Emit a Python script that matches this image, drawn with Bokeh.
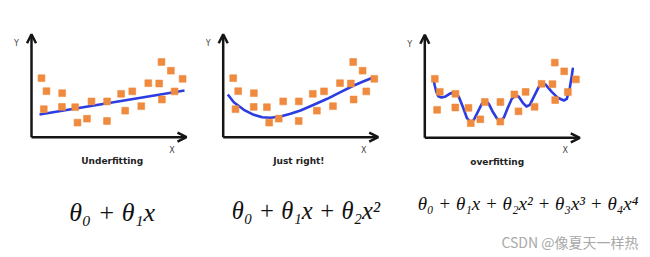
from bokeh.plotting import figure
from bokeh.layouts import row
from bokeh.models import Range1d, Arrow, OpenHead, Label
from bokeh.embed import file_html
from bokeh.resources import INLINE

# ---- data (local units, origin = axes corner, y up) ----
POINT_X = [10, 15, 12.3, 30.7, 30.5, 43.7, 46, 55.5, 60, 75.6, 75.5, 89.6, 93.7,
           100.8, 109.8, 116.8, 127.7, 130, 130.4, 139.4, 143.1, 151.1]
POINT_Y = [59, 46, 28, 44, 30.3, 30, 14.6, 18.5, 35.8, 35.8, 16.2, 43.4, 26.5,
           45.9, 31, 54, 53.7, 75.2, 37.7, 66.5, 45.8, 58.4]

UNDER_X = [8, 153]
UNDER_Y = [22.7, 46.7]

RIGHT_X = [4.6, 10.6, 20.6, 30.6, 39, 47.3, 57.3, 67.3, 77.3, 90.6, 104, 117.3, 130.6, 140.6, 150.6]
RIGHT_Y = [42.7, 35, 27.4, 22.4, 20, 19.4, 20.7, 23.4, 26.7, 32.4, 38.4, 45, 51.7, 56, 60]

OVER_X = [9, 10, 11.5, 13.5, 16.7, 20, 24, 28, 30.7, 34, 38, 42, 45.7, 49, 53, 57, 60.7,
          64, 68, 72, 75.7, 79, 83, 87, 90.7, 94, 98, 101.7, 105, 110, 114, 117.4,
          121, 127, 133, 139, 142, 145, 147, 148]
OVER_Y = [57, 52, 46, 41.5, 40.3, 41, 43.5, 45.3, 45.3, 41, 31, 20, 15.6, 18, 26, 34, 37.3,
          34, 26, 19.5, 17.3, 20, 30, 39, 42.3, 41, 35, 31.3, 33, 43, 51, 54.6,
          53, 46, 40, 37.3, 39, 50, 62, 69]

TITLES = ["Underfitting", "Just right!", "overfitting"]
FORMULAS = ["θ₀ + θ₁x", "θ₀ + θ₁x + θ₂x²", "θ₀ + θ₁x + θ₂x² + θ₃x³ + θ₄x⁴"]
WATERMARK = "CSDN @像夏天一样热"

ORANGE = "#ef8a3e"
BLUE = "#2b3ce0"
AXIS = "#151515"


def panel(width, ox, oy):
    p = figure(width=width, height=257,
               x_range=Range1d(-ox, width - ox), y_range=Range1d(oy - 257, oy),
               min_border=0, toolbar_location=None, output_backend="svg",
               outline_line_color=None, background_fill_color="white",
               border_fill_color="white")
    p.xaxis.visible = False
    p.yaxis.visible = False
    p.grid.visible = False
    # axes arrows
    p.add_layout(Arrow(end=OpenHead(size=9, line_width=2.5, line_color=AXIS),
                       x_start=0, y_start=0, x_end=0, y_end=103,
                       line_width=2.5, line_color=AXIS))
    p.add_layout(Arrow(end=OpenHead(size=9, line_width=2.5, line_color=AXIS),
                       x_start=0, y_start=0, x_end=155, y_end=0,
                       line_width=2.5, line_color=AXIS))
    p.add_layout(Label(x=-15, y=93.5, text="Y", text_font="DejaVu Sans",
                       text_font_size="8px", text_color="#444",
                       text_align="center", text_baseline="middle"))
    p.add_layout(Label(x=140.5, y=-13, text="X", text_font="DejaVu Sans",
                       text_font_size="8px", text_color="#444",
                       text_align="center", text_baseline="middle"))
    return p


p1 = panel(205, 31, 136.7)
p2 = panel(197, 17.7, 136.7)
p3 = panel(248, 22.3, 137.3)

p1.line(UNDER_X, UNDER_Y, line_color=BLUE, line_width=2.6)
p2.line(RIGHT_X, RIGHT_Y, line_color=BLUE, line_width=2.6, line_join="round")
p3.line(OVER_X, OVER_Y, line_color=BLUE, line_width=2.6, line_join="round", line_cap="round")

for p in (p1, p2, p3):
    p.scatter(POINT_X, POINT_Y, marker="square", size=6.8, fill_color=ORANGE,
              line_color=ORANGE, line_alpha=0.6, line_width=1)

title_pos = [(80.7, -24), (75.6, -23.3), (72.4, -24.4)]
for p, t, (x, y) in zip((p1, p2, p3), TITLES, title_pos):
    p.add_layout(Label(x=x, y=y, text=t, text_font="DejaVu Sans",
                       text_font_style="bold", text_font_size="9px",
                       text_color="#222", text_align="center", text_baseline="middle"))

formula_pos = [(80.7, -75, "26px"), (82.8, -73.3, "24.5px"), (103.2, -65.7, "19px")]
for p, f, (x, y, s) in zip((p1, p2, p3), FORMULAS, formula_pos):
    p.add_layout(Label(x=x, y=y, text=f, text_font="Liberation Serif",
                       text_font_style="italic", text_font_size=s,
                       text_color="#111", text_align="center", text_baseline="middle"))

p3.add_layout(Label(x=213.7, y=-103.7, text=WATERMARK, text_font="Noto Sans CJK SC",
                    text_font_size="14px", text_color="#a8a8a8",
                    text_align="right", text_baseline="middle"))

layout = row(p1, p2, p3, spacing=0)
open("out.html", "w").write(file_html(layout, INLINE))
